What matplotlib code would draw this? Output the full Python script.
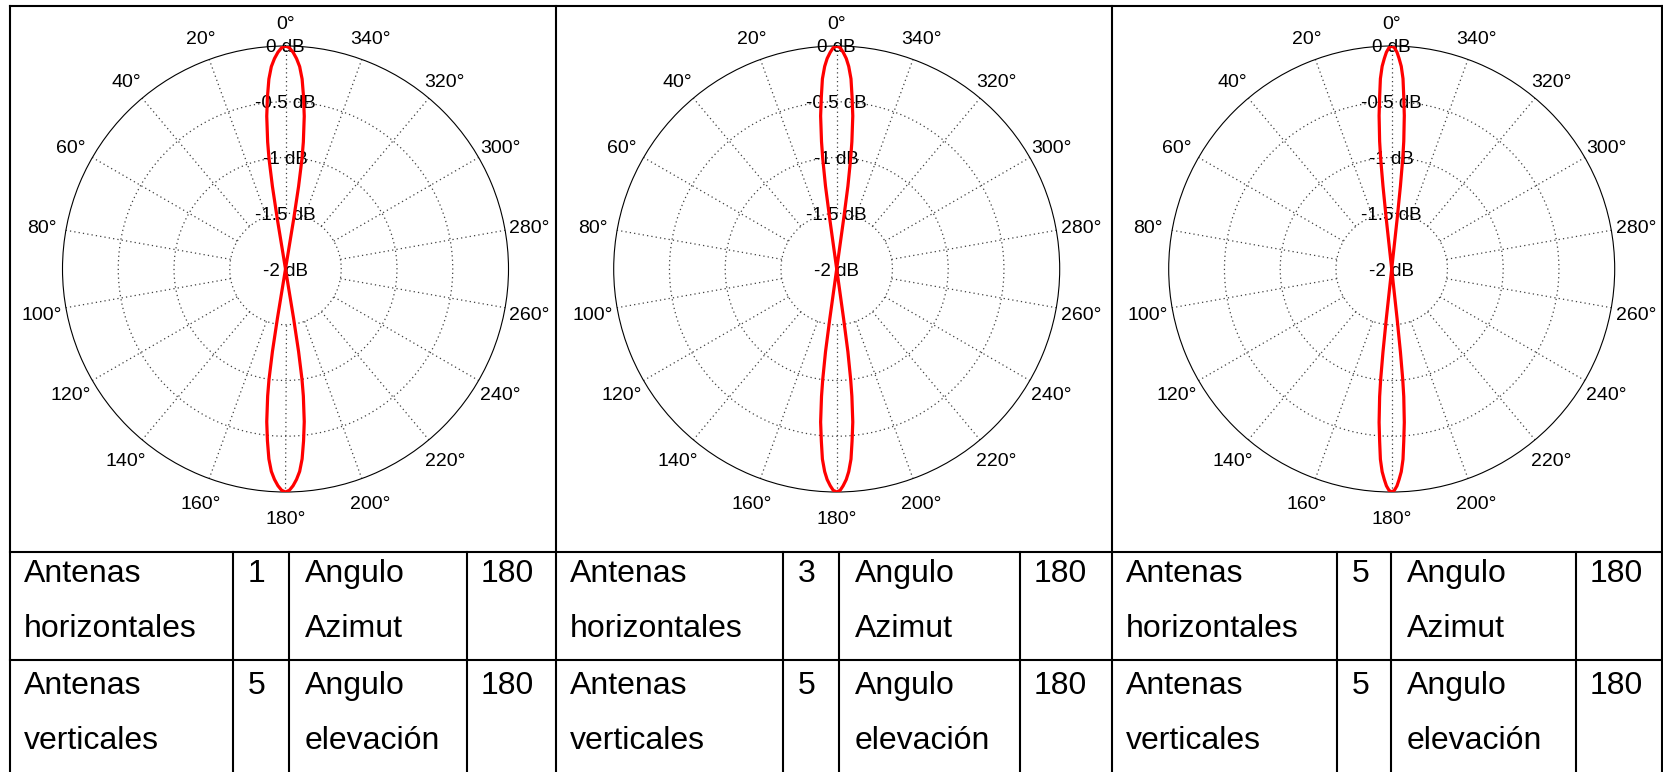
import matplotlib.pyplot as plt
import matplotlib.transforms as mtransforms
import numpy as np

plt.rcParams['font.family'] = ['Liberation Sans', 'DejaVu Sans']

# Main lobe edge: gain level (dB) and the half-width angle (deg) at that level
lobe_db = [0, -0.015, -0.055, -0.11, -0.18, -0.29, -0.45, -0.62, -0.85, -1.0, -1.25, -1.55, -2.0]
lobe_deg_h1 = [0, 1.0, 2.0, 3.0, 4.0, 5.0, 6.0, 7.0, 8.0, 8.5, 9.0, 9.3, 9.5]
lobe_deg_h3 = [0, 0.9, 1.7, 2.6, 3.4, 4.3, 5.1, 6.0, 6.8, 7.2, 7.7, 7.9, 8.1]
lobe_deg_h5 = [0, 0.7, 1.4, 2.0, 2.7, 3.4, 4.0, 4.7, 5.4, 5.7, 6.0, 6.2, 6.4]

# Array configuration shown under each pattern
antenas_horizontales = [1, 3, 5]
antenas_verticales = [5, 5, 5]
angulo_azimut = [180, 180, 180]
angulo_elevacion = [180, 180, 180]

ring_db = [-2, -1.5, -1, -0.5, 0]
theta_ticks = list(range(0, 360, 20))

W, H = 1663, 772
fig = plt.figure(figsize=(W / 100, H / 100), dpi=100)
fig.patch.set_facecolor('white')

# page-like layer in pixel units for the table grid and text
bg = fig.add_axes([0, 0, 1, 1])
bg.set_xlim(0, W)
bg.set_ylim(H, 0)
bg.axis('off')

panel_left = [9.5, 556, 1112]
panel_cols = [[233, 288.5, 466.7], [783, 839, 1019.6], [1337, 1390.8, 1575.8]]
row_top, row1, row2 = 6, 552, 660
border_lw = 1.5

# outer frame and row separators
for y in (row_top, row1, row2):
    bg.plot([9.5, 1662], [y, y], color='black', lw=border_lw, solid_capstyle='projecting')
for x in panel_left + [1662]:
    bg.plot([x, x], [row_top, H], color='black', lw=border_lw, solid_capstyle='projecting')
for cols in panel_cols:
    for x in cols:
        bg.plot([x, x], [row1, H], color='black', lw=border_lw)

# cell text
pads = [14, 15, 16, 14]
fs_table = 23
for i in range(3):
    xs = [panel_left[i]] + panel_cols[i]
    rows = [
        (582, ['Antenas', str(antenas_horizontales[i]), 'Angulo', str(angulo_azimut[i])]),
        (637, ['horizontales', '', 'Azimut', '']),
        (694, ['Antenas', str(antenas_verticales[i]), 'Angulo', str(angulo_elevacion[i])]),
        (749, ['verticales', '', 'elevación', '']),
    ]
    for yb, cells in rows:
        for x, pad, s in zip(xs, pads, cells):
            if s:
                bg.text(x + pad, yb, s, fontsize=fs_table, ha='left', va='baseline')


def lobe_curve(deg, db):
    deg = np.asarray(deg, dtype=float)
    db = np.asarray(db, dtype=float)
    th = np.concatenate([deg, 180 - deg[::-1], 180 + deg, 360 - deg[::-1]])
    r = np.concatenate([db, db[::-1], db, db[::-1]])
    return np.radians(th), r


centers_x = [285.5, 836.7, 1391.7]
center_y = 269
R = 223
grid_kw = dict(color='0.25', lw=0.9, linestyle=(0, (1, 2.5)), zorder=1)

for cx, lobe_deg in zip(centers_x, [lobe_deg_h1, lobe_deg_h3, lobe_deg_h5]):
    ax = fig.add_axes([(cx - R) / W, (H - center_y - R) / H, 2 * R / W, 2 * R / H],
                      projection='polar')
    ax.set_facecolor('none')
    ax.set_theta_zero_location('N')
    ax.set_theta_direction(1)
    ax.set_ylim(ring_db[0], ring_db[-1])
    ax.set_xticks([])
    ax.set_yticks([])
    ax.grid(False)
    ax.spines['polar'].set_linewidth(0.8)
    ax.spines['polar'].set_color('black')

    # dotted rings and spokes
    full = np.linspace(0, 2 * np.pi, 361)
    for r in ring_db[1:-1]:
        ax.plot(full, np.full_like(full, r), **grid_kw)
    for t in theta_ticks:
        ax.plot([np.radians(t)] * 2, [ring_db[1], ring_db[-1]], **grid_kw)

    # angle labels outside the circle
    angle_tr = mtransforms.offset_copy(ax.transData, fig=fig, y=-3, units='dots')
    for t in theta_ticks:
        ax.text(np.radians(t), 0.222, f'{t}°', fontsize=14, transform=angle_tr,
                ha='center', va='center', clip_on=False)

    # ring labels along the 0° direction
    ring_tr = mtransforms.offset_copy(ax.transData, fig=fig, y=-2, units='dots')
    for r in ring_db:
        ax.text(0, r, f'{r:g} dB', fontsize=13.5, transform=ring_tr,
                ha='center', va='center', zorder=2)

    th, rr = lobe_curve(lobe_deg, lobe_db)
    ax.plot(th, rr, color='red', lw=2.3, solid_joinstyle='round', zorder=3)

fig.savefig('out.png', dpi=100)
